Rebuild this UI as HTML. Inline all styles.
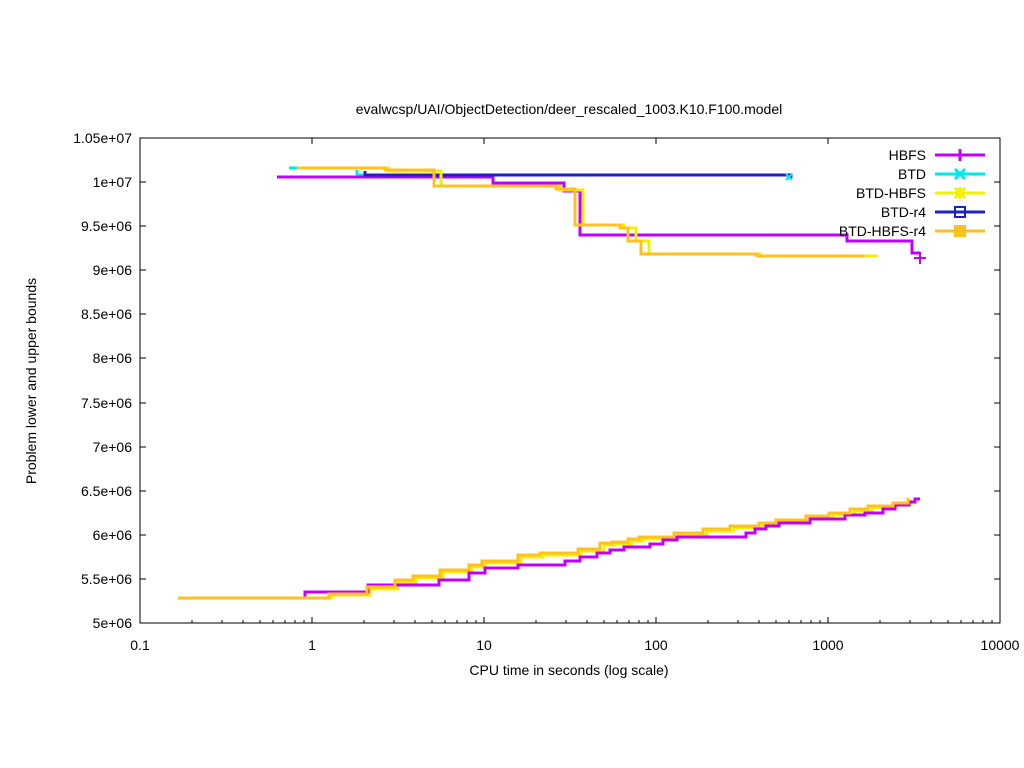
<!DOCTYPE html><html><head><style>body{margin:0;background:#fff}svg{display:block}text{font-family:"Liberation Sans",sans-serif;font-size:14px;fill:#000}</style></head><body>
<svg width="1024" height="768" viewBox="0 0 1024 768">
<rect x="140" y="138" width="860" height="485" fill="none" stroke="#000" stroke-width="1"/>
<g stroke="#000" stroke-width="1">
<path d="M140 623h6M140 579h6M140 535h6M140 491h6M140 447h6M140 403h6M140 358h6M140 314h6M140 270h6M140 226h6M140 182h6M140 138h6M1000 623h-6M1000 579h-6M1000 535h-6M1000 491h-6M1000 447h-6M1000 403h-6M1000 358h-6M1000 314h-6M1000 270h-6M1000 226h-6M1000 182h-6M1000 138h-6"/>
<path d="M140 623v-6M312 623v-6M484 623v-6M656 623v-6M828 623v-6M1000 623v-6M140 138v6M312 138v6M484 138v6M656 138v6M828 138v6M1000 138v6"/>
<path d="M192 623v-3M222 623v-3M243 623v-3M260 623v-3M273 623v-3M285 623v-3M295 623v-3M304 623v-3M364 623v-3M394 623v-3M415 623v-3M432 623v-3M445 623v-3M457 623v-3M467 623v-3M476 623v-3M536 623v-3M566 623v-3M587 623v-3M604 623v-3M617 623v-3M629 623v-3M639 623v-3M648 623v-3M708 623v-3M738 623v-3M759 623v-3M776 623v-3M789 623v-3M801 623v-3M811 623v-3M820 623v-3M880 623v-3M910 623v-3M931 623v-3M948 623v-3M961 623v-3M973 623v-3M983 623v-3M992 623v-3"/>
</g>
<g text-anchor="end">
<text x="132" y="628">5e+06</text><text x="132" y="584">5.5e+06</text><text x="132" y="540">6e+06</text><text x="132" y="496">6.5e+06</text><text x="132" y="452">7e+06</text><text x="132" y="408">7.5e+06</text><text x="132" y="363">8e+06</text><text x="132" y="319">8.5e+06</text><text x="132" y="275">9e+06</text><text x="132" y="231">9.5e+06</text><text x="132" y="187">1e+07</text><text x="132" y="143">1.05e+07</text>
</g>
<g text-anchor="middle">
<text x="140" y="650">0.1</text><text x="312" y="650">1</text><text x="484" y="650">10</text><text x="656" y="650">100</text><text x="828" y="650">1000</text><text x="1000" y="650">10000</text>
<text x="569" y="675">CPU time in seconds (log scale)</text>
<text x="569" y="114">evalwcsp/UAI/ObjectDetection/deer_rescaled_1003.K10.F100.model</text>
<text transform="translate(36,381) rotate(-90)">Problem lower and upper bounds</text>
</g>
<g fill="none" stroke-width="3">
<!-- upper bounds -->
<path stroke="#00e8e8" d="M289 168H300M357 170V175H365"/>
<path stroke="#c000ff" d="M277 177H493V183H564V191H580V235H847V241H912V253H920"/>
<path stroke="#2020c8" d="M365 171V175H791V178"/>
<path stroke="#f0f000" d="M297 168H389V171H441V186H560V190H583V225H624V228H636V241H649V254H760V256H878"/>
<path stroke="#ffc020" d="M297 168H385V170H434V186H556V189H575V225H620V228H628V241H641V254H757V256H865"/>
<!-- lower bounds -->
<path stroke="#f0f000" d="M178 598H332V595H370V589H398V582H416V578H443V572H472V567H485V563H521V557H543V555H581V551H604V545H615V544H632V541H643V539H678V535H707V531H734V528H763V525H780V522H810V518H833V515H854V511H872V508H897V505H911V500"/>
<path stroke="#c000ff" d="M178 598H305V592H368V585H439V580H469V573H485V568H518V565H565V561H580V557H597V553H610V550H624V547H650V544H663V540H677V537H746V533H755V529H766V526H779V523H810V519H845V515H865V513H883V509H895V505H909V502H915V499H920"/>
<path stroke="#ffc020" d="M178 598H329V594H367V587H395V580H413V576H440V570H469V565H482V561H518V555H540V553H578V549H600V543H612V542H628V539H639V537H674V533H703V529H730V526H759V523H776V520H806V516H829V513H850V509H868V506H893V503H908V498"/>
</g>
<!-- markers -->
<g stroke-width="2" fill="none">
<path stroke="#c000ff" d="M914 258h12M920 252v12"/>
<path stroke="#00e8e8" d="M786 174l6 6M792 174l-6 6"/>
</g>
<!-- legend -->
<g text-anchor="end">
<text x="926" y="160">HBFS</text><text x="926" y="179">BTD</text><text x="926" y="198">BTD-HBFS</text><text x="926" y="217">BTD-r4</text><text x="926" y="236">BTD-HBFS-r4</text>
</g>
<g stroke-width="3" fill="none">
<path stroke="#c000ff" d="M935 155H985M960 149v12"/>
<path stroke="#00e8e8" d="M935 174H985M955 169l10 10M965 169l-10 10"/>
<path stroke="#f0f000" d="M935 193H985M955 188l10 10M965 188l-10 10M960 187v12M954 193h12"/>
<path stroke="#2020c8" d="M935 212H985"/><rect x="955" y="207" width="10" height="10" stroke="#2020c8" stroke-width="2"/>
<path stroke="#ffc020" d="M935 231H985"/><rect x="954" y="225" width="12" height="12" fill="#ffc020" stroke="none"/>
</g>
</svg></body></html>
